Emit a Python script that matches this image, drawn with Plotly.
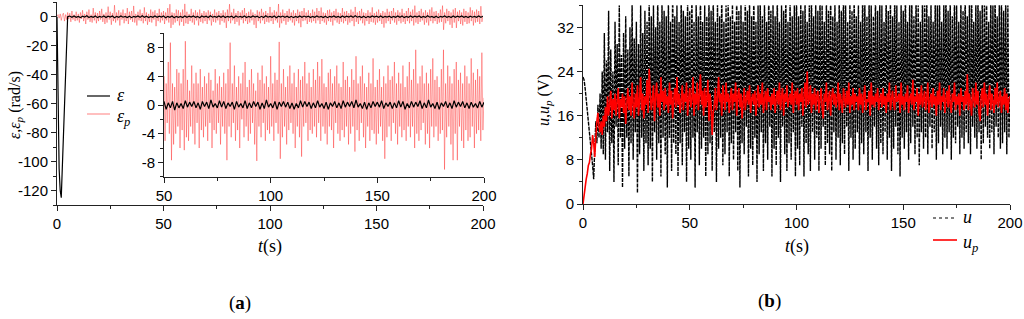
import numpy as np
import plotly.graph_objects as go

# ---------------- data ----------------
# time grids (s)
t_half = np.arange(0, 200.01, 0.5)          # 0.5 s sampling, 401 samples
t_eps = np.concatenate([np.arange(0, 5, 0.5), np.arange(5, 200.01, 1.0)])

# tracking error epsilon (rad/s)
eps_vals = [0, -70, -105, -120, -125, -104, -83, -62, -42, -21,
            0, 0.5, -0.3, 0.6, -0.4, 0.2, -0.6, 0.4, -0.2, 0.7,
            -0.5, 0.3, -0.4, 0.5, -0.6, 0.2, -0.3, 0.6, -0.5, 0.4,
            -0.2, 0.5, -0.7, 0.3, -0.4, 0.6, -0.3, 0.2, -0.5, 0.4,
            -0.6, 0.3, -0.2, 0.5, -0.4, 0.7, -0.3, 0.4, -0.5, 0.2,
            -0.4, 0.6, -0.3, 0.4, -0.2, 0.5, -0.6, 0.3, -0.4, 0.5,
            -0.7, 0.3, -0.4, 0.2, -0.5, 0.6, -0.3, 0.4, -0.2, 0.5,
            -0.4, 0.3, -0.6, 0.5, -0.2, 0.4, -0.5, 0.7, -0.3, 0.2,
            -0.4, 0.6, -0.3, 0.5, -0.5, 0.3, -0.2, 0.4, -0.6, 0.5,
            -0.3, 0.2, -0.4, 0.6, -0.5, 0.3, -0.4, 0.5, -0.2, 0.4,
            -0.6, 0.3, -0.5, 0.7, -0.3, 0.2, -0.4, 0.5, -0.6, 0.4,
            -0.2, 0.5, -0.3, 0.4, -0.5, 0.3, -0.6, 0.2, -0.4, 0.6,
            -0.3, 0.5, -0.2, 0.4, -0.5, 0.3, -0.4, 0.6, -0.3, 0.2,
            -0.5, 0.4, -0.6, 0.3, -0.2, 0.5, -0.4, 0.3, -0.5, 0.6,
            -0.3, 0.4, -0.2, 0.5, -0.4, 0.7, -0.3, 0.2, -0.5, 0.4,
            -0.6, 0.3, -0.4, 0.5, -0.2, 0.4, -0.3, 0.6, -0.5, 0.3,
            -0.2, 0.4, -0.5, 0.3, -0.4, 0.6, -0.3, 0.5, -0.6, 0.2,
            -0.4, 0.5, -0.3, 0.4, -0.2, 0.6, -0.5, 0.3, -0.4, 0.7,
            -0.3, 0.2, -0.5, 0.4, -0.6, 0.3, -0.2, 0.5, -0.4, 0.3,
            -0.5, 0.6, -0.3, 0.4, -0.2, 0.5, -0.4, 0.3, -0.5, 0.4,
            -0.3, 0.2, -0.4, 0.5, -0.3, 0.4]

# predicted error epsilon_p (rad/s)
eps_p_vals = [
    0.5, 1.5, -1, 2, -2.5, 1, 2.5, -3, 1.5, -2, 3, -1.5, 2.5, -3.5, 4, -2, 1.5, -3, 3.5, -2.5,
    2, -4, 3, -1.5, 4.5, -3, 2, -5, 3.5, -2, 5, -3.5, 1.5, -4, 6, -2.5, 3, -4.5, 2.5, -3,
    4, -2, 5.5, -3.5, 2, -5, 3, -4, 7, -2, 3.5, -5.5, 2.5, -3, 8, -4, 3, -2.5, 4.5, -6,
    3, -2, 5, -4.5, 2.5, -3, 6, -5, 3.5, -2, 4, -3.5, 7.5, -4, 2, -6, 3.5, -2.5, 5, -3,
    2.5, -4.5, 6.5, -3, 3, -5.5, 2, -3.5, 5, -4, 3.5, -2, 4.5, -6.5, 2.5, -3, 5.5, -4, 3, -2.5,
    4, -5, 3, -2.5, 6, -4, 8.7, -7.7, 3, -5.5, 2.5, -4, 5, -3, 4.5, -6, 3, -3.5, 5, -6.3,
    8.9, -4.5, 3.5, -5, 2, -3, 5.5, -4, 3, -5.5, 4.5, -2.5, 3, -6, 5, -3.5, 2.5, -4.5, 4, -3,
    3, -5, 4.5, -2.5, 3.5, -6, 2, -3.5, 5, -4, 3, -2.5, 4, -5.5, 2.5, -3, 4.5, -4, 3, -7.7,
    5, -3, 8.7, -4.5, 3, -2.5, 5.5, -5, 2.5, -3.5, 4, -6, 3, -2, 4.5, -4.5, 6, -3, 2.5, -5,
    3.5, -4, 5, -2.5, 3, -5.5, 2, -7.8, 4.5, -3, 3.5, -4.5, 5.5, -2.5, 3, -5, 4, -3.5, 2.5, -4,
    6.8, -3, 3, -5, 4.5, -2.5, 3.5, -4, 8.8, -7.5, 3, -4.5, 5, -3, 2.5, -5.5, 4, -3.5, 5.5, -2.5,
    3, -4, 4.5, -6, 2.5, -3, 5, -4.5, 3.5, -7.2, 4, -3, 6, -2.5, 3, -5, 4.5, -3.5, 2.5, -4,
    5, -3, 3.5, -4.5, 6, -2.5, 4, -5, 6.4, -3, 3, -4, 2.5, -5.5, 4.5, -3, 5, -3.5, 3, -6,
    4, -2.5, 5.5, -4, 3, -5, 2.5, -3.5, 6, -4.5, 3.5, -3, 4, -5.5, 2.5, -4, 5, -3, 3.5, -6.5,
    6.8, -3.5, 3, -5, 4, -2.5, 5.5, -4.5, 3, -6, 2.5, -3, 4.5, -5, 3, -3.5, 6.5, -4, 2.5, -5.5,
    3.5, -4, 5, -3, 2.5, -5, 4, -7.5, 3, -4.5, 5.5, -3, 3.5, -5, 4, -2.5, 6, -4, 3, -5.5,
    4.5, -3, 3, -4.5, 5.5, -3.5, 2.5, -5, 4, -3, 6, -4.5, 3.5, -3, 5, -6, 7.7, -4, 3, -5,
    4, -3.5, 5.5, -2.5, 3, -5.5, 4.5, -4, 3, -6, 5, -3, 6.5, -4.5, 3.5, -3, 4, -5, 2.5, -4,
    5, -3.5, 7.7, -9, 3, -4.5, 5.5, -3, 4, -5.5, 3, -7.7, 5, -4, 6, -7.7, 3.5, -3, 4.5, -5,
    3, -6, 5.5, -3.5, 4, -5, 3, -4.5, 6.5, -3, 4.5, -6, 3.5, -4, 5, -3.5, 4, -5, 7.3, -3.5,
    1]

# control voltage u (V); values above 36 run off the top of the axis
u_vals = [
    23, 22.5, 21, 19, 17, 15, 13, 11, 9, 7, 4.5, 10, 15, 11, 18, 12, 20, 10, 24, 9,
    31, 8, 26, 13, 35, 6, 28, 11, 24, 4, 33, 14, 29, 7, 36, 12, 27, 3, 31, 10,
    34, 12, 28, 5, 32, 11, 37, 8, 30, 13, 33, 2, 29, 9, 36, 12, 31, 6, 35, 11,
    33, 7, 38, 10, 34, 4, 36, 13, 32, 8, 39, 11, 33, 5, 37, 12, 35, 9, 34, 3,
    37, 12, 33, 6, 40, 11, 34, 9, 36, 5, 33, 11, 39, 7, 35, 13, 34, 4, 38, 10,
    35, 8, 39, 12, 33, 3, 37, 13, 34, 7, 40, 10, 33, 12, 36, 5, 34, 9, 38, 11,
    35, 6, 39, 13, 33, 4, 37, 10, 34, 12, 40, 7, 33, 9, 36, 13, 38, 5, 34, 11,
    37, 8, 33, 13, 40, 6, 35, 3, 37, 11, 33, 9, 39, 14, 35, 5, 38, 10, 34, 7,
    40, 12, 33, 4, 36, 9, 38, 13, 34, 6, 37, 11, 33, 8, 40, 14, 35, 5, 37, 10,
    34, 7, 39, 12, 33, 4, 36, 14, 35, 9, 40, 6, 33, 11, 38, 8, 34, 13, 36, 5,
    39, 10, 34, 7, 37, 14, 35, 5, 38, 11, 33, 9, 36, 6, 40, 13, 34, 8, 37, 12,
    35, 6, 39, 10, 36, 14, 33, 7, 38, 11, 35, 9, 40, 6, 34, 13, 37, 8, 33, 12,
    38, 7, 35, 11, 40, 9, 36, 14, 33, 6, 37, 12, 35, 8, 39, 10, 34, 13, 36, 7,
    33, 11, 40, 9, 37, 13, 34, 6, 38, 12, 36, 8, 34, 14, 39, 10, 35, 7, 37, 11,
    36, 9, 33, 13, 40, 8, 35, 12, 38, 6, 34, 10, 39, 14, 36, 9, 33, 5, 37, 12,
    35, 10, 40, 13, 33, 8, 37, 11, 38, 14, 34, 9, 39, 12, 36, 7, 33, 13, 38, 10,
    36, 12, 40, 9, 34, 14, 37, 10, 33, 13, 39, 8, 36, 11, 38, 14, 33, 9, 37, 12,
    40, 10, 35, 13, 38, 8, 34, 12, 39, 11, 36, 14, 33, 9, 38, 12, 35, 10, 40, 13,
    34, 11, 37, 9, 40, 14, 33, 12, 37, 10, 39, 13, 35, 8, 38, 11, 36, 14, 40, 12,
    33, 10, 38, 13, 36, 9, 40, 14, 34, 12, 37, 10, 39, 11, 35, 13, 38, 9, 36, 12,
    20]

# predicted control voltage u_p (V)
u_p_vals = [
    0, 1.5, 3, 4.5, 5.5, 7, 7.5, 9, 10, 12.5, 11, 8.5, 12, 15, 16.5, 14, 13, 15, 12.5, 16,
    14, 17.5, 15, 19.5, 16, 18, 20.5, 15.5, 19, 17, 20, 16, 18.5, 21, 15.5, 19, 17.5, 20, 16.5, 19.5,
    14.5, 18, 21, 17, 19.5, 16, 22, 18, 15.5, 20, 17.5, 21.5, 16, 19, 23, 17, 20, 15.5, 19.5, 18,
    22.5, 16.5, 24.5, 20, 17, 19, 21.5, 15, 19.5, 22, 17.5, 20, 16, 23, 18.5, 20.5, 17, 21, 18, 19.5,
    16.5, 22, 18, 20.5, 15.5, 19, 21, 17.5, 23, 18, 20, 16.5, 19, 21.5, 17, 20, 18.5, 22, 16, 19,
    21, 17.5, 19, 23, 16, 20, 18, 22, 17, 19.5, 23.5, 18, 20.5, 16, 21, 17.5, 19, 22.5, 15, 20,
    18, 12.5, 16.5, 18, 21, 17, 19, 23, 18.5, 20, 16, 21.5, 19, 17, 22, 18.5, 20, 16.5, 19.5, 21,
    17, 20, 18.5, 22, 16, 19.5, 21, 17.5, 20, 15.5, 18.5, 21, 17, 19, 20.5, 18, 21.5, 16.5, 19, 20,
    18, 20.5, 16, 19, 21.5, 17.5, 20, 18, 22, 16.5, 19, 20.5, 17, 21, 18.5, 19.5, 17, 20, 18, 21,
    16.5, 19, 20.5, 18, 22, 17, 19.5, 21, 16, 20, 18.5, 21.5, 17.5, 19, 20, 18, 22, 16.5, 19.5, 20.5,
    18, 21, 17, 20, 18.5, 21, 16, 19.5, 22, 17.5, 24, 18, 19, 21.5, 16.5, 20, 18, 21, 17, 19.5,
    20.5, 16.5, 19, 21, 17.5, 15.5, 20, 18.5, 22, 17, 19, 20.5, 16, 19.5, 21, 18, 20, 17.5, 19, 22,
    17, 20, 18.5, 16.5, 21, 19, 17.5, 20.5, 18, 22, 16.5, 19.5, 18, 21, 17, 20, 18.5, 19.5, 17, 21,
    18, 20, 16.5, 19.5, 21.5, 17, 19, 18.5, 20.5, 16, 22, 18, 19.5, 17.5, 20, 18.5, 21, 17, 19, 20,
    17.5, 21, 18, 19.5, 16.5, 20, 18.5, 22, 17, 19, 20.5, 18, 17, 21.5, 18.5, 19, 20, 16.5, 22, 18,
    19.5, 17, 20, 18.5, 21.5, 16.5, 19, 20, 18, 22.5, 17, 19.5, 18.5, 21, 16, 20, 18, 21.5, 17.5, 19,
    20.5, 17, 19, 22, 16.5, 18.5, 20, 17.5, 21, 18, 19.5, 16, 20.5, 18, 22, 17, 19.5, 18.5, 21, 16.5,
    19, 20.5, 17.5, 21.5, 18, 16.5, 20, 18.5, 22, 17, 19.5, 18, 20, 16, 21, 18.5, 19.5, 17, 20.5, 18,
    23.5, 17, 20, 18.5, 16, 21, 19, 17.5, 22, 18, 20.5, 16.5, 15, 19.5, 21, 17.5, 22, 18, 20, 16,
    19.5, 21.5, 17, 20, 18.5, 16.5, 21, 18, 22, 17.5, 19, 20.5, 16.5, 19.5, 18, 21, 17, 20, 16.5, 19,
    19.5]

# tick values and labels (ASCII hyphen minus as in the original)
ticks_t = [0, 50, 100, 150, 200]
ticks_t_inset = [50, 100, 150, 200]
ticks_eps = [-120, -100, -80, -60, -40, -20, 0]
ticks_eps_text = ["-120", "-100", "-80", "-60", "-40", "-20", "0"]
ticks_eps_inset = [-8, -4, 0, 4, 8]
ticks_eps_inset_text = ["-8", "-4", "0", "4", "8"]
ticks_u = [0, 8, 16, 24, 32]

# ---------------- styles ----------------
W, H = 1024, 319
SANS = "Liberation Sans, Arial, sans-serif"
SERIF = "Liberation Serif, Times New Roman, serif"
EPS_STYLE = dict(color="black", width=1.2)
EPS_P_STYLE = dict(color="rgba(255,0,0,0.5)", width=0.7)
U_STYLE = dict(color="black", width=1.4, dash="4px,1px")
U_P_STYLE = dict(color="red", width=1.6)

fig = go.Figure()

# panel (a) main
fig.add_trace(go.Scatter(x=t_half, y=eps_p_vals, mode="lines", xaxis="x", yaxis="y",
                         line=dict(**EPS_P_STYLE, simplify=False), showlegend=False))
fig.add_trace(go.Scatter(x=t_eps, y=eps_vals, mode="lines", xaxis="x", yaxis="y",
                         line=EPS_STYLE, showlegend=False))
# inset
fig.add_trace(go.Scatter(x=t_half, y=eps_p_vals, mode="lines", xaxis="x2", yaxis="y2",
                         line=dict(**EPS_P_STYLE, simplify=False), showlegend=False))
fig.add_trace(go.Scatter(x=t_eps, y=eps_vals, mode="lines", xaxis="x2", yaxis="y2",
                         line=EPS_STYLE, showlegend=False))
# panel (b)
fig.add_trace(go.Scatter(x=t_half, y=u_vals, mode="lines", xaxis="x3", yaxis="y3",
                         line=dict(**U_STYLE, simplify=False), showlegend=False))
fig.add_trace(go.Scatter(x=t_half, y=u_p_vals, mode="lines", xaxis="x3", yaxis="y3",
                         line=dict(**U_P_STYLE, simplify=False), showlegend=False))


def px_x(p):
    return p / W


def px_y(p):
    return 1 - p / H


def axis(domain, rng, tickvals, minor_dtick, anchor, ticktext=None):
    d = dict(domain=domain, range=rng, anchor=anchor, tickvals=tickvals,
             automargin=False,
             showline=True, linecolor="#222", linewidth=1, mirror=False,
             ticks="outside", ticklen=5, tickwidth=1, tickcolor="#222",
             showgrid=False, zeroline=False,
             tickfont=dict(family=SANS, size=15, color="black"),
             minor=dict(ticks="outside", ticklen=3, tickwidth=1, tickcolor="#222",
                        dtick=minor_dtick, tick0=0, showgrid=False))
    if ticktext is not None:
        d["ticktext"] = ticktext
    return d


fig.update_layout(
    template="none",
    width=W, height=H, margin=dict(l=0, r=0, t=0, b=0, autoexpand=False),
    paper_bgcolor="white", plot_bgcolor="rgba(0,0,0,0)",
    showlegend=False,
    xaxis=axis([px_x(57), px_x(483)], [0, 200], ticks_t, 25, "y"),
    yaxis=axis([px_y(205), px_y(2.3)], [-130, 10], ticks_eps, 10, "x", ticks_eps_text),
    xaxis2=axis([px_x(164), px_x(484)], [50, 200], ticks_t_inset, 25, "y2"),
    yaxis2=axis([px_y(176.7), px_y(33.3)], [-10, 10], ticks_eps_inset, 2, "x2",
                ticks_eps_inset_text),
    xaxis3=axis([px_x(583), px_x(1010)], [0, 200], ticks_t, 25, "y3"),
    yaxis3=axis([px_y(204), px_y(5.3)], [0, 36], ticks_u, 4, "x3"),
)

# legend keys (line samples + labels)
legend_items = [
    (87, 110, 96, EPS_STYLE, "<i>ε</i>", 115, 95),
    (87, 110, 114, EPS_P_STYLE, "<i>ε</i><sub><i>p</i></sub>", 115, 117),
    (933, 957, 218, dict(color="black", width=1.0, dash="dot"), "<i>u</i>", 961, 217),
    (933, 957, 240, U_P_STYLE, "<i>u</i><sub><i>p</i></sub>", 961, 243),
]
for x0, x1, yy, style, label, tx, ty in legend_items:
    fig.add_shape(type="line", xref="paper", yref="paper",
                  x0=px_x(x0), x1=px_x(x1), y0=px_y(yy), y1=px_y(yy),
                  line=dict(color=style["color"], width=max(style["width"], 1.0),
                            dash=style.get("dash", "solid")))
    fig.add_annotation(x=px_x(tx), y=px_y(ty), xref="paper", yref="paper", text=label,
                       showarrow=False, xanchor="left", yanchor="middle",
                       font=dict(family=SERIF, size=18, color="black"))

annots = [
    dict(x=px_x(270), y=px_y(246), text="<i>t</i>(s)"),
    dict(x=px_x(797), y=px_y(246), text="<i>t</i>(s)"),
    dict(x=px_x(240), y=px_y(303), text="(<b>a</b>)", size=19),
    dict(x=px_x(769), y=px_y(301), text="(<b>b</b>)", size=19),
    dict(x=px_x(15), y=px_y(105), text="<i>ε</i>,<i>ε</i><sub><i>p</i></sub> (rad/s)",
         angle=-90, size=16),
    dict(x=px_x(544), y=px_y(100), text="<i>u</i>,<i>u</i><sub><i>p</i></sub> (V)",
         angle=-90, size=16),
]
for a in annots:
    fig.add_annotation(x=a["x"], y=a["y"], xref="paper", yref="paper", text=a["text"],
                       showarrow=False, textangle=a.get("angle", 0),
                       xanchor="center", yanchor="middle",
                       font=dict(family=SERIF, size=a.get("size", 18), color="black"))

# remove the browser's default 8px page margin so the figure sits at the window origin
fig.write_html("out.html", config={"displayModeBar": False},
               post_script="document.body.style.margin='0';document.body.style.overflow='hidden';")
